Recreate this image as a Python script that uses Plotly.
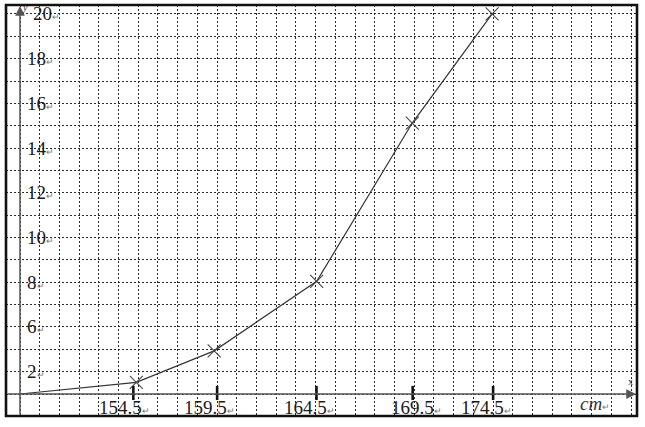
import plotly.graph_objects as go

# ---- data (in grid-cell units of the drawn grid) ----
curve_x = [0, 5.9, 9.85, 15.05, 19.9, 23.95]
curve_y = [0, 0.52, 1.93, 5.04, 12.12, 17.0]

x_tick_labels = ["154.5", "159.5", "164.5", "169.5", "174.5"]
x_tick_cells = [5.75, 10.0, 15.04, 19.92, 24.0]

y_tick_labels = ["2", "6", "8", "10", "12", "14", "16", "18", "20"]
y_tick_cells = [1, 3, 5, 7, 9, 11, 13, 15, 17]

# ---- layout constants ----
W, H = 645, 427
ML, MR, MT, MB = 6, 8, 5, 11
X_RANGE = [-0.71, 31.30]
Y_RANGE = [-0.984, 17.40]
SERIF = "Liberation Serif, Times New Roman, serif"
RET = "<span style='font-size:9px;color:#777'>\u21b5</span>"

fig = go.Figure()

# curve
fig.add_trace(go.Scatter(
    x=curve_x, y=curve_y, mode="lines",
    line=dict(color="#333", width=1.2),
    hoverinfo="skip", showlegend=False))
# crosses at the points (skip origin)
fig.add_trace(go.Scatter(
    x=curve_x[1:], y=curve_y[1:], mode="markers",
    marker=dict(symbol="x-thin", size=13, line=dict(width=1.1, color="#444")),
    hoverinfo="skip", showlegend=False))

# tick marks on x axis
tx, ty = [], []
for c in x_tick_cells:
    tx += [c, c, None]
    ty += [0.36, -0.27, None]
fig.add_trace(go.Scatter(x=tx, y=ty, mode="lines",
                         line=dict(color="#111", width=2.6),
                         hoverinfo="skip", showlegend=False))

annotations = []
# axes with arrows
annotations.append(dict(x=0, y=17.35, ax=0, ay=Y_RANGE[0], xref="x", yref="y",
                        axref="x", ayref="y", text="", showarrow=True,
                        arrowhead=2, arrowsize=1.3, arrowwidth=1.5, arrowcolor="#555"))
annotations.append(dict(x=31.25, y=0, ax=X_RANGE[0], ay=0, xref="x", yref="y",
                        axref="x", ayref="y", text="", showarrow=True,
                        arrowhead=2, arrowsize=1.3, arrowwidth=1.5, arrowcolor="#555"))

# y labels
for lab, c in zip(y_tick_labels, y_tick_cells):
    xs = 0.64 if lab == "20" else 0.34
    annotations.append(dict(x=xs, y=c, xref="x", yref="y", text=lab + RET,
                            showarrow=False, xanchor="left", yanchor="middle",
                            borderpad=0, borderwidth=0,
                            font=dict(family=SERIF, size=19, color="#1a1a1a")))
# x labels
label_shift = [-34, -33, -32, -22, -32]
for lab, c, s in zip(x_tick_labels, x_tick_cells, label_shift):
    annotations.append(dict(x=c, y=-0.62, xref="x", yref="y", text=lab + RET,
                            showarrow=False, xanchor="left", yanchor="middle",
                            xshift=s, borderpad=0, borderwidth=0,
                            font=dict(family=SERIF, size=19, color="#1a1a1a")))
# axis letters
annotations.append(dict(x=0.1, y=17.3, xref="x", yref="y", text="<i>y</i>",
                        showarrow=False, xanchor="left", yanchor="middle",
                        borderpad=0, borderwidth=0,
                        font=dict(family=SERIF, size=10, color="#333")))
annotations.append(dict(x=30.95, y=0.55, xref="x", yref="y", text="x",
                        showarrow=False, xanchor="center", yanchor="middle",
                        font=dict(family=SERIF, size=10, color="#333")))
annotations.append(dict(x=28.42, y=-0.42, xref="x", yref="y", text="<i>cm</i>" + RET,
                        showarrow=False, xanchor="left", yanchor="middle",
                        borderpad=0, borderwidth=0,
                        font=dict(family=SERIF, size=19, color="#333")))

grid = dict(showgrid=True, gridcolor="#2a2a2a", gridwidth=1.4, griddash="2px,2px",
            zeroline=False, showticklabels=False, ticks="", showline=False,
            dtick=1, tick0=0, fixedrange=True)

fig.update_layout(
    width=W, height=H,
    margin=dict(l=ML, r=MR, t=MT, b=MB, pad=0),
    paper_bgcolor="white", plot_bgcolor="white",
    xaxis=dict(range=X_RANGE, **grid),
    yaxis=dict(range=Y_RANGE, **grid),
    annotations=annotations,
    shapes=[dict(type="rect", xref="paper", yref="paper", x0=0, y0=0, x1=1, y1=1,
                 line=dict(color="#111", width=2.6))],
    showlegend=False,
)

fig.write_html("out.html", config={"displayModeBar": False},
               post_script="document.body.style.margin='0px';document.body.style.padding='0px';")
